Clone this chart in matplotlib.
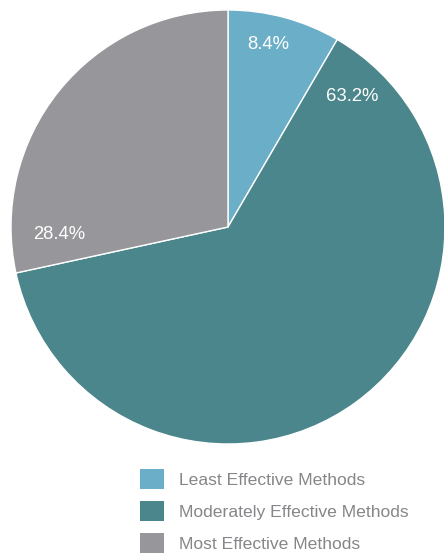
import matplotlib.pyplot as plt
import numpy as np
from matplotlib.patches import Patch

labels = ["Least Effective Methods", "Moderately Effective Methods", "Most Effective Methods"]
values = [8.4, 63.2, 28.4]
colors = ["#6aafc7", "#4a868b", "#97979b"]

# label placement: (angle in degrees, distance from center as fraction of radius)
label_pos = [(77.6, 0.86), (46.4, 0.83), (182.7, 0.78)]

plt.rcParams["font.family"] = ["Liberation Sans", "DejaVu Sans"]

fig = plt.figure(figsize=(4.44, 5.57), dpi=100)
ax = fig.add_axes([11 / 444, 113 / 557, 434 / 444, 434 / 557])
ax.pie(values, colors=colors, startangle=90, counterclock=False, radius=1,
       wedgeprops=dict(edgecolor="white", linewidth=1))
ax.set_xlim(-1, 1)
ax.set_ylim(-1, 1)
ax.set_aspect("equal")
ax.axis("off")

for v, (ang, d) in zip(values, label_pos):
    a = np.deg2rad(ang)
    ax.text(d * np.cos(a), d * np.sin(a), f"{v}%", color="white", fontsize=13.3,
            ha="center", va="center")

fs = 12.6
handles = [Patch(facecolor=c, edgecolor="none") for c in colors]
leg = fig.legend(handles, labels, loc="upper left", bbox_to_anchor=(140 / 444, 1 - 469 / 557),
                 frameon=False, fontsize=fs, handlelength=1.37, handleheight=1.37,
                 handletextpad=0.86, labelspacing=0.7, borderpad=0, borderaxespad=0)
for t in leg.get_texts():
    t.set_color("#86868a")

fig.savefig("out.png", dpi=100)
